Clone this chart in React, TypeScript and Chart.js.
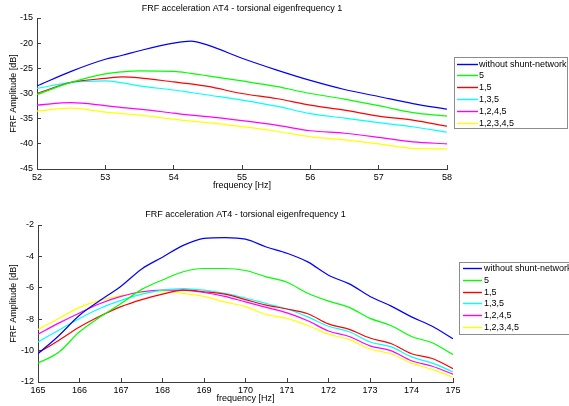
import React, { useEffect, useRef } from 'react';
import { Chart, registerables } from 'chart.js';

Chart.register(...registerables);

const FONT_FAMILY = '"Liberation Sans", Arial, Helvetica, sans-serif';
const TITLE = 'FRF acceleration AT4 - torsional eigenfrequency 1';
const X_TITLE = 'frequency [Hz]';
const Y_TITLE = 'FRF Amplitude [dB]';

const seriesLabels = ['without shunt-network', '5', '1,5', '1,3,5', '1,2,4,5', '1,2,3,4,5'];
const seriesColors = ['#0000ff', '#00ff00', '#ff0000', '#00ffff', '#ff00ff', '#ffff00'];

// ---- top chart ----
const topFreq = [52, 52.5, 53, 53.25, 53.5, 54, 54.25, 54.5, 55, 55.5, 56, 56.5, 57, 57.5, 58];
const topWithout = [-28.5, -25.6, -23.2, -22.4, -21.5, -20.0, -19.6, -20.4, -23.0, -25.3, -27.4, -29.2, -30.6, -32.0, -33.1];
const top5 = [-30.2, -27.8, -26.1, -25.7, -25.5, -25.6, -26.0, -26.5, -27.5, -28.6, -30.0, -31.1, -32.4, -33.8, -34.5];
const top15 = [-30.0, -27.8, -27.0, -26.7, -26.9, -27.7, -28.1, -28.6, -30.0, -31.0, -32.3, -33.3, -34.5, -35.3, -36.5];
const top135 = [-29.0, -27.8, -27.5, -27.9, -28.5, -29.3, -29.8, -30.3, -31.3, -32.5, -34.0, -34.9, -35.8, -36.6, -37.7];
const top1245 = [-32.3, -31.8, -32.4, -32.8, -33.1, -33.9, -34.3, -34.6, -35.4, -36.3, -37.4, -37.9, -38.7, -39.6, -40.0];
const top12345 = [-33.5, -32.9, -33.7, -34.0, -34.3, -35.1, -35.5, -35.8, -36.6, -37.5, -38.6, -39.2, -40.0, -40.9, -41.0];
const topXTicks = [52, 53, 54, 55, 56, 57, 58];
const topYTicks = [-45, -40, -35, -30, -25, -20, -15];

// ---- bottom chart ----
const botFreq = [165, 165.5, 166, 166.5, 167, 167.5, 168, 168.5, 169, 169.5, 170, 170.5, 171, 171.5, 172, 172.5, 173, 173.5, 174, 174.5, 175];
const botWithout = [-10.2, -9.05, -7.75, -6.8, -5.9, -4.8, -4.05, -3.3, -2.85, -2.8, -2.9, -3.4, -3.8, -4.35, -5.2, -5.75, -6.55, -7.15, -7.85, -8.45, -9.25];
const bot5 = [-10.8, -10.1, -8.8, -7.85, -7.0, -6.1, -5.5, -4.98, -4.77, -4.77, -4.9, -5.3, -5.65, -6.35, -6.85, -7.25, -7.95, -8.4, -9.1, -9.5, -10.25];
const bot15 = [-10.15, -9.35, -8.5, -7.8, -7.2, -6.75, -6.4, -6.15, -6.25, -6.4, -6.75, -7.1, -7.35, -7.65, -8.3, -8.65, -9.2, -9.55, -10.2, -10.5, -11.15];
const bot135 = [-9.45, -8.7, -7.95, -7.3, -6.8, -6.4, -6.15, -6.05, -6.15, -6.35, -6.65, -7.0, -7.35, -7.85, -8.45, -8.8, -9.45, -9.75, -10.4, -10.8, -11.35];
const bot1245 = [-8.95, -8.25, -7.6, -7.0, -6.55, -6.25, -6.15, -6.15, -6.3, -6.55, -6.9, -7.25, -7.6, -8.1, -8.75, -9.1, -9.7, -10.0, -10.65, -11.0, -11.5];
const bot12345 = [-8.65, -7.95, -7.25, -6.8, -6.5, -6.3, -6.25, -6.35, -6.55, -6.9, -7.2, -7.7, -7.95, -8.4, -8.95, -9.3, -9.9, -10.2, -10.8, -11.2, -11.7];
const botXTicks = [165, 166, 167, 168, 169, 170, 171, 172, 173, 174, 175];
const botYTicks = [-12, -10, -8, -6, -4, -2];

const W = 569;
const H = 203;

type Layout = {
  yWidth: number;
  xHeight: number;
  padRight: number;
  titleTop: number;
  titleBottom: number;
  xTitlePad: number;
  yTitlePad: number;
  legend: { x: number; y: number; w: number; h: number; first: number; step: number; l1: number; l2: number; tx: number };
};

function boxLegendPlugin(lg: Layout['legend']) {
  return {
    id: 'boxLegend',
    afterDraw(chart: any) {
      const ctx = chart.ctx as CanvasRenderingContext2D;
      ctx.save();
      ctx.fillStyle = '#ffffff';
      ctx.fillRect(lg.x, lg.y, lg.w, lg.h);
      ctx.strokeStyle = '#8c8c8c';
      ctx.lineWidth = 1;
      ctx.strokeRect(lg.x + 0.5, lg.y + 0.5, lg.w, lg.h);
      ctx.font = `9px ${FONT_FAMILY}`;
      ctx.textBaseline = 'middle';
      ctx.textAlign = 'left';
      chart.data.datasets.forEach((ds: any, i: number) => {
        const cy = Math.round(lg.y + lg.first + i * lg.step) + 0.5;
        ctx.strokeStyle = ds.borderColor;
        ctx.lineWidth = 1.4;
        ctx.beginPath();
        ctx.moveTo(lg.l1, cy);
        ctx.lineTo(lg.l2, cy);
        ctx.stroke();
        ctx.fillStyle = '#000';
        ctx.fillText(ds.label, lg.tx, cy);
      });
      ctx.restore();
    },
  };
}

function makeConfig(freq: number[], series: number[][], xTicks: number[], yTicks: number[], L: Layout): any {
  const font = { family: FONT_FAMILY, size: 9 };
  return {
    type: 'line',
    data: {
      datasets: series.map((vals, i) => ({
        label: seriesLabels[i],
        data: freq.map((f, j) => ({ x: f, y: vals[j] })),
        borderColor: seriesColors[i],
        backgroundColor: seriesColors[i],
        borderWidth: 1.2,
        pointRadius: 0,
        fill: false,
        cubicInterpolationMode: 'monotone',
      })),
    },
    options: {
      animation: false,
      responsive: false,
      maintainAspectRatio: false,
      events: [],
      layout: { padding: { left: 0, right: L.padRight, top: 0, bottom: 0 } },
      plugins: {
        legend: { display: false },
        tooltip: { enabled: false },
        title: {
          display: true,
          text: TITLE,
          fullSize: false,
          color: '#000',
          font: { ...font, weight: 'normal' },
          padding: { top: L.titleTop, bottom: L.titleBottom },
        },
      },
      scales: {
        x: {
          type: 'linear',
          min: xTicks[0],
          max: xTicks[xTicks.length - 1],
          afterBuildTicks: (axis: any) => {
            axis.ticks = xTicks.map((v) => ({ value: v }));
          },
          afterFit: (s: any) => {
            s.height = L.xHeight;
          },
          grid: { drawOnChartArea: false, drawTicks: true, tickLength: -4, color: '#3c3c3c', lineWidth: 1 },
          border: { display: true, color: '#3c3c3c', width: 1 },
          ticks: { color: '#000', font, padding: 7, maxRotation: 0, autoSkip: false },
          title: { display: true, text: X_TITLE, color: '#000', font, padding: { top: 0, bottom: L.xTitlePad } },
        },
        y: {
          type: 'linear',
          min: yTicks[0],
          max: yTicks[yTicks.length - 1],
          afterBuildTicks: (axis: any) => {
            axis.ticks = yTicks.map((v) => ({ value: v }));
          },
          afterFit: (s: any) => {
            s.width = L.yWidth;
          },
          grid: { drawOnChartArea: false, drawTicks: true, tickLength: -4, color: '#3c3c3c', lineWidth: 1 },
          border: { display: true, color: '#3c3c3c', width: 1 },
          ticks: { color: '#000', font, padding: 8, autoSkip: false },
          title: { display: true, text: Y_TITLE, color: '#000', font, padding: { top: L.yTitlePad, bottom: 0 } },
        },
      },
    },
    plugins: [boxLegendPlugin(L.legend)],
  };
}

const topLayout: Layout = {
  yWidth: 37,
  xHeight: 34,
  padRight: 122,
  titleTop: 3.6,
  titleBottom: 3.6,
  xTitlePad: 11.6,
  yTitlePad: 8,
  legend: { x: 454, y: 57, w: 113, h: 71, first: 6.5, step: 11.8, l1: 457, l2: 478, tx: 479 },
};

const botLayout: Layout = {
  yWidth: 38,
  xHeight: 24,
  padRight: 116,
  titleTop: 6.6,
  titleBottom: 4.6,
  xTitlePad: 1.6,
  yTitlePad: 8.5,
  legend: { x: 459, y: 59, w: 113, h: 72, first: 6, step: 11.8, l1: 463, l2: 482, tx: 484 },
};

function FrfChart(props: { freq: number[]; series: number[][]; xTicks: number[]; yTicks: number[]; layout: Layout; top: number }) {
  const ref = useRef<HTMLCanvasElement | null>(null);
  useEffect(() => {
    if (!ref.current) return;
    const chart = new Chart(ref.current, makeConfig(props.freq, props.series, props.xTicks, props.yTicks, props.layout));
    return () => chart.destroy();
  }, []);
  return (
    <canvas
      ref={ref}
      width={W}
      height={H}
      style={{ position: 'absolute', left: 0, top: props.top, width: W, height: H, display: 'block' }}
    />
  );
}

export default function App() {
  return (
    <div style={{ position: 'absolute', left: 0, top: 0, width: W, height: 406, background: '#ffffff', overflow: 'hidden' }}>
      <FrfChart
        freq={topFreq}
        series={[topWithout, top5, top15, top135, top1245, top12345]}
        xTicks={topXTicks}
        yTicks={topYTicks}
        layout={topLayout}
        top={0}
      />
      <FrfChart
        freq={botFreq}
        series={[botWithout, bot5, bot15, bot135, bot1245, bot12345]}
        xTicks={botXTicks}
        yTicks={botYTicks}
        layout={botLayout}
        top={203}
      />
    </div>
  );
}
